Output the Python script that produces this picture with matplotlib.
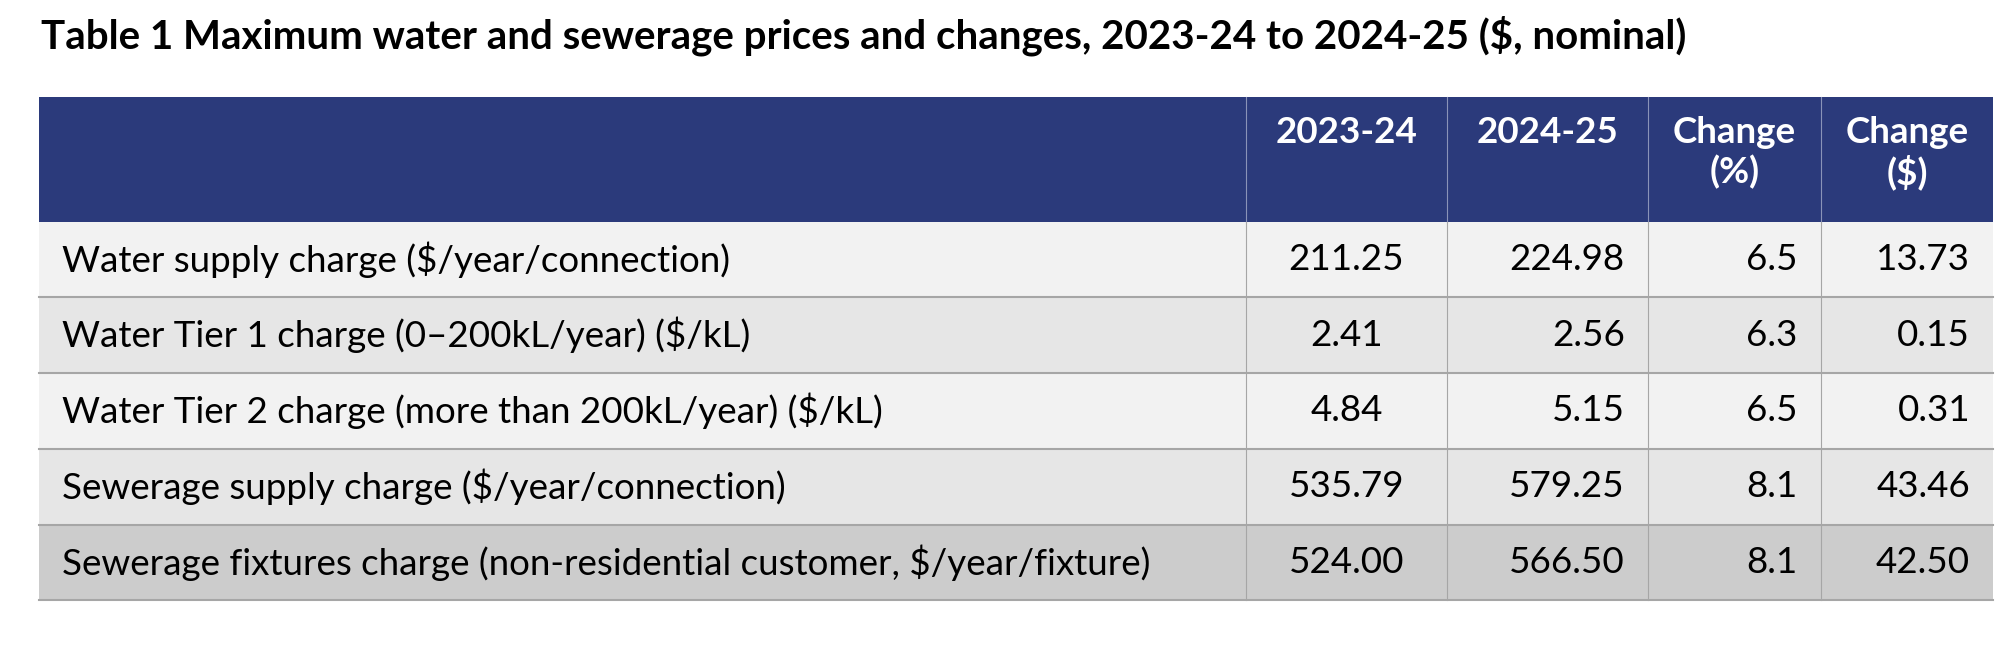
import matplotlib.pyplot as plt
from matplotlib.patches import Rectangle

plt.rcParams['font.family'] = ['Lato', 'DejaVu Sans']

title = "Table 1 Maximum water and sewerage prices and changes, 2023-24 to 2024-25 ($, nominal)"
headers = ["2023-24", "2024-25", "Change\n(%)", "Change\n($)"]
items = [
    "Water supply charge ($/year/connection)",
    "Water Tier 1 charge (0\u2013200kL/year) ($/kL)",
    "Water Tier 2 charge (more than 200kL/year) ($/kL)",
    "Sewerage supply charge ($/year/connection)",
    "Sewerage fixtures charge (non-residential customer, $/year/fixture)",
]
p2324 = ["211.25", "2.41", "4.84", "535.79", "524.00"]
p2425 = ["224.98", "2.56", "5.15", "579.25", "566.50"]
chg_pct = ["6.5", "6.3", "6.5", "8.1", "8.1"]
chg_usd = ["13.73", "0.15", "0.31", "43.46", "42.50"]
row_colors = ["#f2f2f2", "#e6e6e6", "#f2f2f2", "#e6e6e6", "#cccccc"]

fig = plt.figure(figsize=(20.1, 6.48), dpi=100)
ax = fig.add_axes([0, 0, 1, 1])
ax.set_xlim(0, 1560)
ax.set_ylim(503, 0)
ax.axis('off')

left, right = 30, 1547
cols = [left, 967, 1123, 1279, 1413, right]
head_top, head_bot = 75, 172
row_h = 58.8
fs = 26.5

ax.text(32, 28, title, fontsize=29, fontweight='bold', va='center', ha='left')

ax.add_patch(Rectangle((left, head_top), right - left, head_bot - head_top, color='#2b3a7b', lw=0))
for i, h in enumerate(headers):
    x0, x1 = cols[i + 1], cols[i + 2]
    ax.text((x0 + x1) / 2, 90, h, color='white', fontsize=fs, fontweight='bold',
            ha='center', va='top', linespacing=1.2)
for x in cols[1:-1]:
    ax.plot([x, x], [head_top, head_bot], color='#8a93b8', lw=0.8)

values = list(zip(p2324, p2425, chg_pct, chg_usd))
for r, name in enumerate(items):
    y0 = head_bot + r * row_h
    ax.add_patch(Rectangle((left, y0), right - left, row_h, color=row_colors[r], lw=0))
    yc = y0 + row_h / 2
    ax.text(48, yc, name, fontsize=fs, va='center', ha='left')
    v = values[r]
    ax.text((cols[1] + cols[2]) / 2, yc, v[0], fontsize=fs, va='center', ha='center')
    ax.text(cols[3] - 18, yc, v[1], fontsize=fs, va='center', ha='right')
    ax.text(cols[4] - 18, yc, v[2], fontsize=fs, va='center', ha='right')
    ax.text(cols[5] - 18, yc, v[3], fontsize=fs, va='center', ha='right')
    ax.plot([left, right], [y0 + row_h, y0 + row_h], color='#a6a6a6', lw=1.5)
    for x in cols[1:-1]:
        ax.plot([x, x], [y0, y0 + row_h], color='#a6a6a6', lw=0.8)

fig.savefig('out.png', dpi=100)
